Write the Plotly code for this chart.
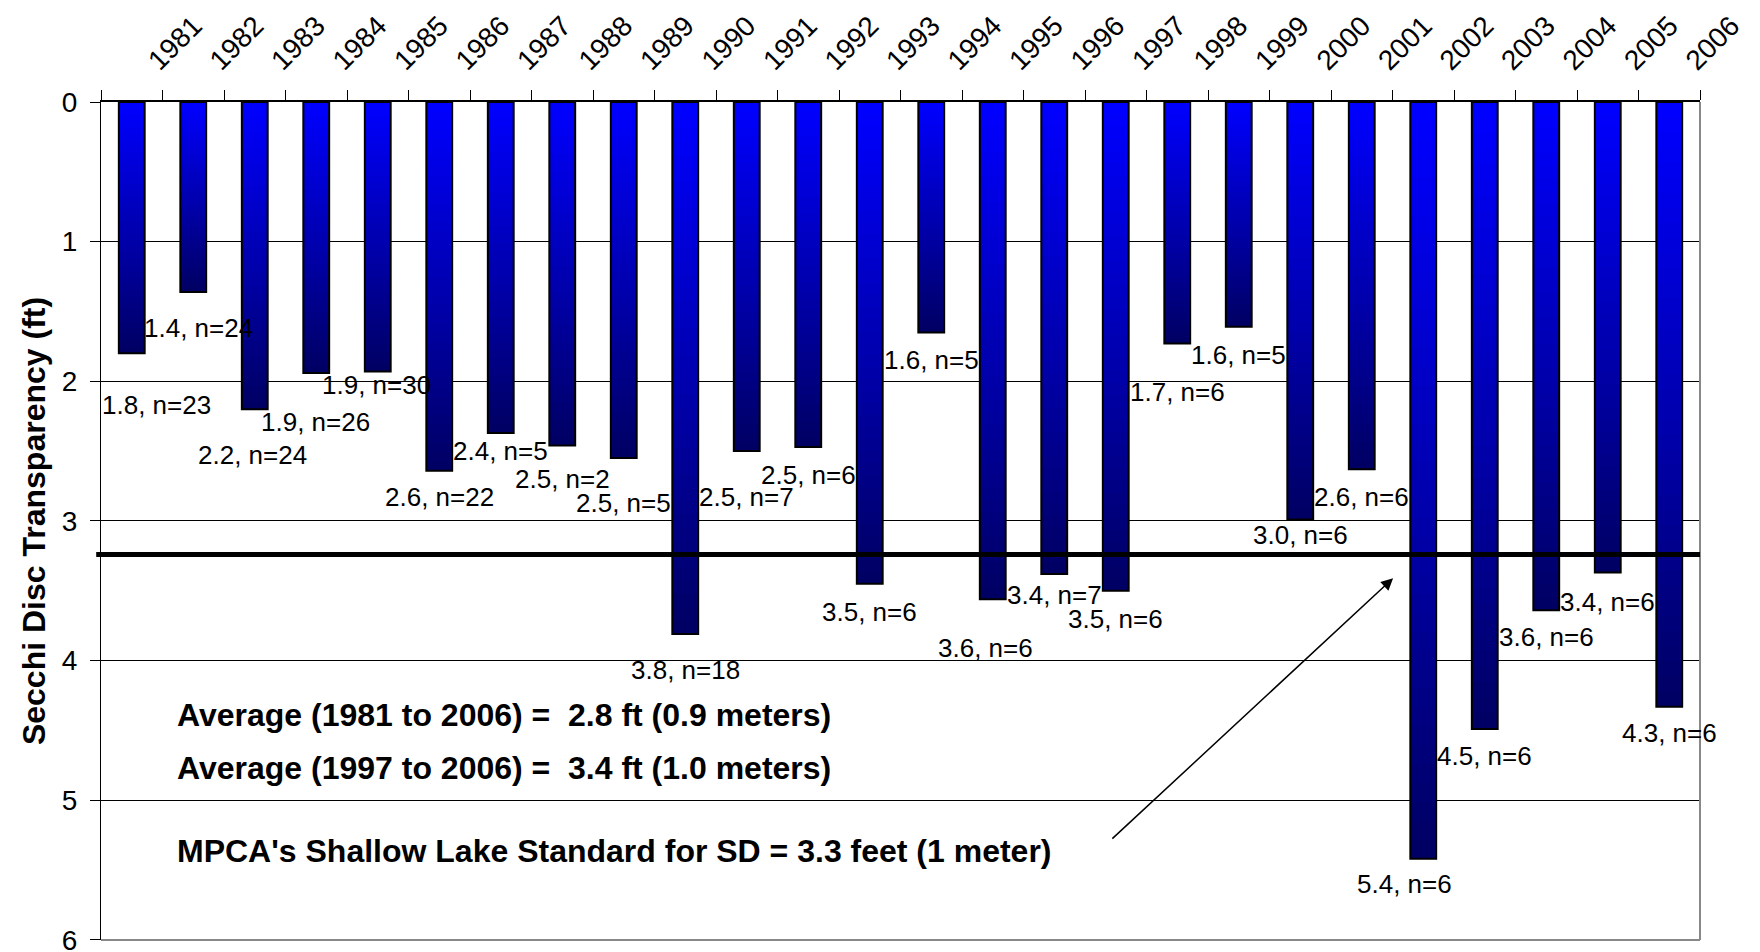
import plotly.graph_objects as go

# ---------------- data ----------------
YEARS = [str(y) for y in range(1981, 2007)]
SECCHI_FT = [1.80, 1.36, 2.20, 1.94, 1.93, 2.64, 2.37, 2.46, 2.55, 3.81,
             2.50, 2.47, 3.45, 1.65, 3.56, 3.38, 3.50, 1.73, 1.61, 2.99,
             2.63, 5.42, 4.49, 3.64, 3.37, 4.33]
LABEL_VALUES = [1.8, 1.4, 2.2, 1.9, 1.9, 2.6, 2.4, 2.5, 2.5, 3.8,
                2.5, 2.5, 3.5, 1.6, 3.6, 3.4, 3.5, 1.7, 1.6, 3.0,
                2.6, 5.4, 4.5, 3.6, 3.4, 4.3]
N_SAMPLES = [23, 24, 24, 26, 30, 22, 5, 2, 5, 18,
             7, 6, 6, 5, 6, 7, 6, 6, 5, 6,
             6, 6, 6, 6, 6, 6]
STANDARD_FT = 3.24          # drawn MPCA shallow lake standard line
Y_TICKS = [0, 1, 2, 3, 4, 5, 6]

# label placement (category-index shift, depth in ft)
LABEL_DX = [0.41, 0.08, -0.03, -0.02, -0.02, 0, 0, 0, 0, 0,
            0, 0, 0, 0, -0.11, 0, 0, 0, 0, 0,
            0, -0.30, 0, 0, 0, 0]
LABEL_Y = [2.17, 1.62, 2.53, 2.29, 2.03, 2.83, 2.50, 2.70, 2.87, 4.07,
           2.83, 2.67, 3.65, 1.85, 3.91, 3.53, 3.70, 2.08, 1.81, 3.10,
           2.83, 5.60, 4.68, 3.83, 3.58, 4.52]

FONT = "Arial"
BAR_W = 0.42
N_SEG = 40
TOP_RGB = (0, 0, 255)
BOT_RGB = (0, 0, 100)

fig = go.Figure()

# gradient bars: overlapping segments, each drawn from a deeper start to the bar end
for k in range(N_SEG):
    t = k / (N_SEG - 1)
    col = "rgb(%d,%d,%d)" % tuple(round(a + (b - a) * t) for a, b in zip(TOP_RGB, BOT_RGB))
    frac = k / N_SEG
    fig.add_trace(go.Bar(
        x=YEARS,
        y=[v * (1 - frac) for v in SECCHI_FT],
        base=[v * frac for v in SECCHI_FT],
        width=BAR_W,
        marker=dict(color=col, line=dict(width=0)),
        hoverinfo="skip", showlegend=False,
    ))
# outline
fig.add_trace(go.Bar(
    x=YEARS, y=SECCHI_FT, base=[0] * len(SECCHI_FT), width=BAR_W,
    marker=dict(color="rgba(0,0,0,0)", line=dict(color="black", width=2)),
    showlegend=False,
))

fig.update_layout(
    barmode="overlay",
    width=1760, height=952,
    margin=dict(l=93, r=68, t=94, b=20),
    paper_bgcolor="white", plot_bgcolor="white",
    font=dict(family=FONT, color="black"),
    showlegend=False,
)

fig.update_xaxes(
    type="category", side="top", tickangle=-45, automargin=False,
    tickson="boundaries", ticks="outside", ticklen=10, tickcolor="black", tickwidth=1,
    showline=True, linecolor="black", linewidth=2,
    showgrid=False, zeroline=False,
    tickfont=dict(size=28, family=FONT, color="black"),
    range=[-0.5, len(YEARS) - 0.5],
    ticklabelstandoff=13, ticklabelshift=18,
    ticklabeloverflow="allow",
)
fig.update_yaxes(
    range=[6.001, 0], tickvals=Y_TICKS, ticktext=[str(v) for v in Y_TICKS],
    automargin=False,
    ticks="outside", ticklen=10, tickcolor="black",
    showline=True, linecolor="black", linewidth=1,
    showgrid=True, gridcolor="black", gridwidth=1,
    zeroline=False,
    tickfont=dict(size=28, family=FONT, color="black"),
    ticklabelstandoff=7,
    ticklabeloverflow="allow",
    title=dict(text="<b>Secchi Disc Transparency (ft)</b>",
               font=dict(size=32, family=FONT, color="black"), standoff=6),
)

# grey right/bottom border
fig.add_shape(type="line", xref="paper", yref="paper", x0=0, x1=1, y0=0, y1=0,
              line=dict(color="#888888", width=2), layer="above")
fig.add_shape(type="line", xref="paper", yref="paper", x0=1, x1=1, y0=0, y1=1,
              line=dict(color="#888888", width=2), layer="above")
# standard line
fig.add_shape(type="line", xref="paper", yref="y", x0=-0.003, x1=1,
              y0=STANDARD_FT, y1=STANDARD_FT, line=dict(color="black", width=5),
              layer="above")

# data labels
for i, (lv, n) in enumerate(zip(LABEL_VALUES, N_SAMPLES)):
    fig.add_annotation(x=i + LABEL_DX[i], y=LABEL_Y[i], xref="x", yref="y",
                       text="%.1f, n=%d" % (lv, n), showarrow=False,
                       font=dict(size=26, family=FONT, color="black"),
                       xanchor="center", yanchor="middle")

# text notes
notes = [
    ("Average (1981 to 2006) =\u00a0 2.8 ft (0.9 meters)", 4.39),
    ("Average (1997 to 2006) =\u00a0 3.4 ft (1.0 meters)", 4.77),
    ("MPCA's Shallow Lake Standard for SD = 3.3 feet (1 meter)", 5.365),
]
for txt, yy in notes:
    fig.add_annotation(x=0.046, y=yy, xref="paper", yref="y", text="<b>%s</b>" % txt,
                       showarrow=False, xanchor="left", yanchor="middle",
                       font=dict(size=32, family=FONT, color="black"))

# arrow
fig.add_annotation(x=20.51, y=3.41, xref="x", yref="y",
                   ax=15.92, ay=5.285, axref="x", ayref="y",
                   text="", showarrow=True, arrowhead=2, arrowsize=1.6,
                   arrowwidth=1.5, arrowcolor="black")

fig.write_html("out.html")
